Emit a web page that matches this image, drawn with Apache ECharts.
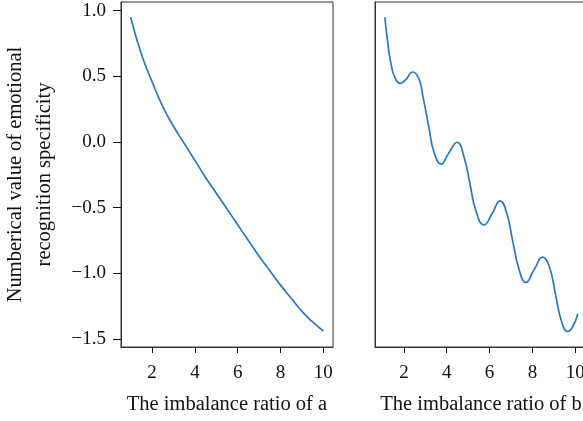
<!DOCTYPE html>
<html>
<head>
<meta charset="utf-8">
<script src="https://cdn.jsdelivr.net/npm/echarts@6/dist/echarts.min.js"></script>
<style>
  html, body { margin: 0; padding: 0; background: #fff; }
  #chart { width: 583px; height: 421px; }
</style>
</head>
<body>
<div id="chart"></div>
<script>
// 曲线 a：数值读自原图
var ratioA = [1.0, 1.5, 2.0, 2.5, 3.0, 3.5, 4.0, 4.5, 5.0, 5.5, 6.0, 6.5, 7.0, 7.5, 8.0, 8.5, 9.0, 9.5, 10.0];
var specA = [0.95, 0.67, 0.46, 0.27, 0.12, -0.01, -0.14, -0.27, -0.39, -0.51, -0.63, -0.75, -0.87, -0.98, -1.09, -1.19, -1.29, -1.37, -1.44];

// 曲线 b：带波动
var ratioB = [1.11, 1.23, 1.39, 1.59, 1.83, 2.11, 2.4, 2.69, 2.89, 3.16, 3.42, 3.74, 4.09, 4.49, 4.8, 5.08, 5.35, 5.74, 6.13, 6.49, 6.8, 7.07, 7.38, 7.69, 8.08, 8.48, 8.79, 9.1, 9.34, 9.65, 9.89, 10.12];
var specB = [0.95, 0.777, 0.6, 0.486, 0.447, 0.478, 0.533, 0.486, 0.346, 0.117, -0.085, -0.169, -0.085, -0.002, -0.111, -0.314, -0.517, -0.631, -0.542, -0.448, -0.542, -0.745, -0.973, -1.07, -0.973, -0.877, -0.948, -1.177, -1.354, -1.443, -1.405, -1.308];

var xTicks = [2, 4, 6, 8, 10];
var yTicks = [-1.5, -1.0, -0.5, 0.0, 0.5, 1.0];

var FONT = 'Liberation Serif';
var LINE_COLOR = '#2c78b9';
var AXIS_COLOR = '#333';

function pairs(xs, ys) {
    var out = [];
    for (var i = 0; i < xs.length; i++) out.push([xs[i], ys[i]]);
    return out;
}

function fmtY(v) {
    return v.toFixed(1).replace('-', '\u2212');
}

function xAxisCfg(idx, min, max, name) {
    return {
        type: 'value', gridIndex: idx, min: min, max: max,
        name: name, nameLocation: 'middle', nameGap: 47,
        nameTextStyle: { fontFamily: FONT, fontSize: 20.5, color: '#111' },
        axisLine: { show: true, onZero: false, lineStyle: { color: AXIS_COLOR, width: 1 } },
        axisTick: { show: true, length: 6, customValues: xTicks, lineStyle: { color: '#111', width: 1 } },
        axisLabel: { customValues: xTicks, margin: 17, fontFamily: FONT, fontSize: 19, color: '#111' },
        splitLine: { show: false }
    };
}

var option = {
    animation: false,
    backgroundColor: '#fff',
    grid: [
        { left: 121, top: 2, width: 212, height: 345, outerBoundsMode: 'none', show: true, borderColor: AXIS_COLOR, borderWidth: 1, backgroundColor: 'transparent' },
        { left: 375, top: 2, width: 212, height: 345, outerBoundsMode: 'none', show: true, borderColor: AXIS_COLOR, borderWidth: 1, backgroundColor: 'transparent' }
    ],
    xAxis: [
        xAxisCfg(0, 0.55, 10.45, 'The imbalance ratio of a'),
        xAxisCfg(1, 0.65, 10.55, 'The imbalance ratio of b')
    ],
    yAxis: [
        {
            type: 'value', gridIndex: 0, min: -1.561, max: 1.066,
            name: 'Numberical value of emotional\nrecognition specificity',
            nameLocation: 'middle', nameGap: 62, nameRotate: 90,
            nameTextStyle: { fontFamily: FONT, fontSize: 20.5, color: '#111', lineHeight: 29, align: 'center' },
            axisLine: { show: true, onZero: false, lineStyle: { color: AXIS_COLOR, width: 1 } },
            axisTick: { show: true, length: 8, customValues: yTicks, lineStyle: { color: '#111', width: 1 } },
            axisLabel: { customValues: yTicks, margin: 15, fontFamily: FONT, fontSize: 19, color: '#111', formatter: fmtY },
            splitLine: { show: false }
        },
        {
            type: 'value', gridIndex: 1, min: -1.561, max: 1.066,
            axisLine: { show: true, onZero: false, lineStyle: { color: AXIS_COLOR, width: 1 } },
            axisTick: { show: false },
            axisLabel: { show: false },
            splitLine: { show: false }
        }
    ],
    series: [
        {
            type: 'line', xAxisIndex: 0, yAxisIndex: 0,
            data: pairs(ratioA, specA),
            smooth: true, showSymbol: false,
            lineStyle: { color: LINE_COLOR, width: 1.7 }
        },
        {
            type: 'line', xAxisIndex: 1, yAxisIndex: 1,
            data: pairs(ratioB, specB),
            smooth: 0.5, showSymbol: false,
            lineStyle: { color: LINE_COLOR, width: 1.7 }
        }
    ]
};

var chart = echarts.init(document.getElementById('chart'));
chart.setOption(option);
</script>
</body>
</html>
